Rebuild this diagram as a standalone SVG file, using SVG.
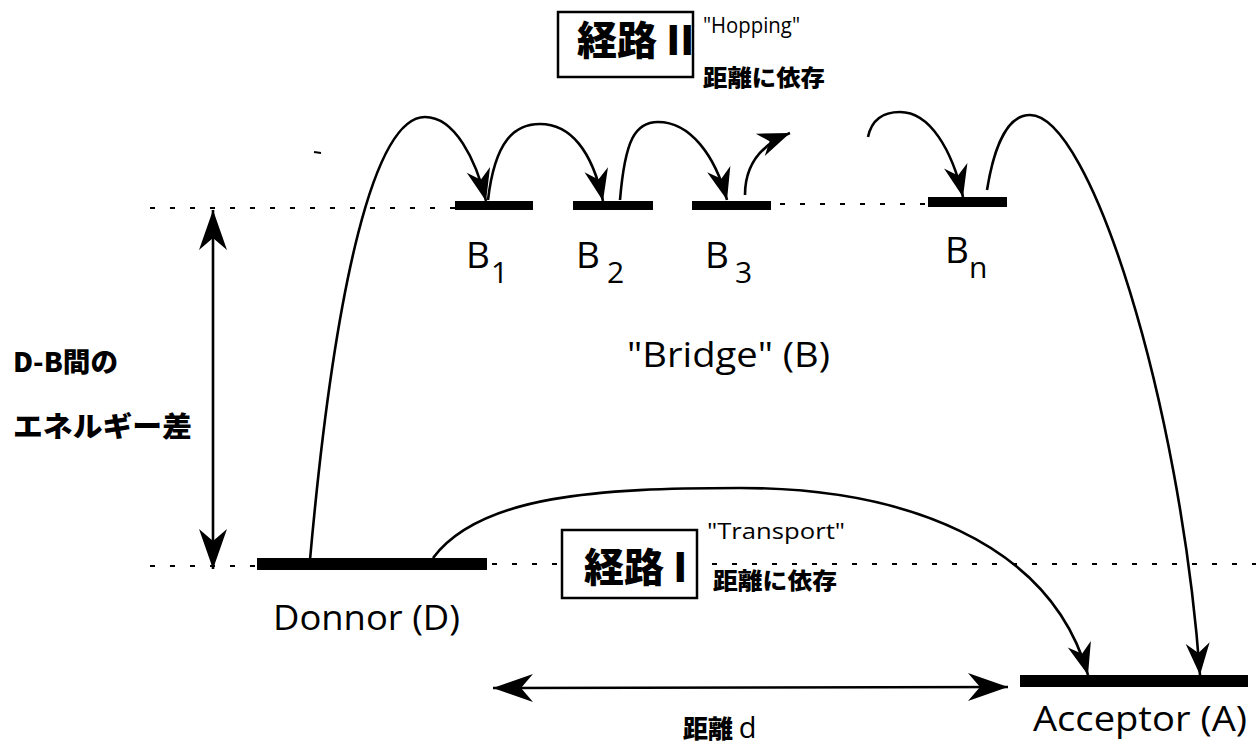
<svg xmlns="http://www.w3.org/2000/svg" width="1256" height="745" viewBox="0 0 1256 745">
<style>
.bg{fill:#fff}
.bar{fill:#000}
.dash{stroke:#000;stroke-width:2;stroke-dasharray:5 15;fill:none}
.conn{stroke:#000;stroke-width:2.6;fill:none}
.box{fill:#fff;stroke:#000;stroke-width:2.5}
.lat{font-family:"Open Sans","DejaVu Sans",sans-serif;fill:#000}
.jp{font-family:"Noto Sans CJK JP","Noto Sans CJK SC",sans-serif;font-weight:900;fill:#000}
.big{font-size:34px}
.blab{font-size:37px}
.sub{font-size:30px}
</style>
<defs>
<marker id="ah" viewBox="-34 -13 36 26" refX="0" refY="0" markerWidth="36" markerHeight="26" markerUnits="userSpaceOnUse" orient="auto">
<path d="M0,0 L-32,-12 L-22,0 L-32,12 Z" fill="#000"/>
</marker>
<marker id="ahL" viewBox="-42 -15 44 30" refX="0" refY="0" markerWidth="44" markerHeight="30" markerUnits="userSpaceOnUse" orient="auto-start-reverse">
<path d="M0,0 L-40,-14 L-28,0 L-40,14 Z" fill="#000"/>
</marker>
</defs>
<rect class="bg" x="0" y="0" width="1256" height="745"/>

<g id="guides">
<line class="dash" x1="150" y1="208" x2="455" y2="208"/>
<line class="dash" x1="780" y1="204" x2="928" y2="204"/>
<line class="dash" x1="150" y1="566" x2="257" y2="566"/>
<line class="dash" x1="492" y1="564" x2="1256" y2="564"/>
<line x1="314" y1="152" x2="321" y2="153" stroke="#000" stroke-width="2"/>
</g>

<g id="connectors">
<path class="conn" d="M310,560 C335,280 375,117 425,117 C455,117 476,160 486,201" marker-end="url(#ah)"/>
<path class="conn" d="M488,200 C495,140 515,124 540,124 C570,124 592,150 603,201" marker-end="url(#ah)"/>
<path class="conn" d="M620,200 C625,140 635,122 658,122 C690,122 715,155 727,200" marker-end="url(#ah)"/>
<path class="conn" d="M745,195 C745,165 760,145 790,133" marker-end="url(#ah)"/>
<path class="conn" d="M868,137 C872,118 885,112 900,112 C930,112 952,150 963,197" marker-end="url(#ah)"/>
<path class="conn" d="M987,190 C995,140 1010,115 1030,115 C1090,115 1180,400 1200,675" marker-end="url(#ah)"/>
<path class="conn" d="M433,558 C480,495 600,488 740,488 C900,488 1050,540 1088,675" marker-end="url(#ah)"/>
<line class="conn" x1="213" y1="210" x2="213" y2="569" marker-start="url(#ahL)" marker-end="url(#ahL)"/>
<line class="conn" x1="493" y1="688" x2="1008" y2="687" marker-start="url(#ahL)" marker-end="url(#ahL)"/>
</g>

<g id="B1">
<rect class="bar" x="455" y="201" width="78" height="9"/>
<text class="lat blab" x="466" y="268">B</text>
<text class="lat sub" x="491" y="283">1</text>
</g>
<g id="B2">
<rect class="bar" x="573" y="201" width="80" height="9"/>
<text class="lat blab" x="576" y="268">B</text>
<text class="lat sub" x="607" y="283">2</text>
</g>
<g id="B3">
<rect class="bar" x="692" y="201" width="79" height="9"/>
<text class="lat blab" x="705" y="268">B</text>
<text class="lat sub" x="735" y="283">3</text>
</g>
<g id="Bn">
<rect class="bar" x="928" y="197" width="79" height="10"/>
<text class="lat blab" x="945" y="263">B</text>
<text class="lat sub" x="969" y="278">n</text>
</g>

<g id="bridge-label">
<text class="lat big" x="627" y="367" textLength="203" lengthAdjust="spacingAndGlyphs">"Bridge" (B)</text>
</g>

<g id="donor">
<rect class="bar" x="257" y="558" width="230" height="12"/>
<text class="lat big" x="273" y="630" textLength="187" lengthAdjust="spacingAndGlyphs">Donnor (D)</text>
</g>

<g id="acceptor">
<rect class="bar" x="1020" y="675" width="228" height="12"/>
<text class="lat big" x="1033" y="731" textLength="214" lengthAdjust="spacingAndGlyphs">Acceptor (A)</text>
</g>

<g id="energy-label">
<text class="jp" x="13" y="372" font-size="27" textLength="105" lengthAdjust="spacingAndGlyphs">D-B間の</text>
<text class="jp" x="13" y="437" font-size="28" textLength="179" lengthAdjust="spacingAndGlyphs">エネルギー差</text>
</g>

<g id="path2">
<rect class="box" x="558" y="12" width="135" height="65"/>
<text class="jp" x="577" y="55" font-size="40">経路 II</text>
<text class="lat" x="703" y="33" font-size="21" textLength="97" lengthAdjust="spacingAndGlyphs">"Hopping"</text>
<text class="jp" x="703" y="86" font-size="23" textLength="122" lengthAdjust="spacingAndGlyphs">距離に依存</text>
</g>

<g id="path1">
<rect class="box" x="562" y="530" width="135" height="68"/>
<text class="jp" x="584" y="582" font-size="40">経路 I</text>
<text class="lat" x="707" y="539" font-size="22" textLength="138" lengthAdjust="spacingAndGlyphs">"Transport"</text>
<text class="jp" x="713" y="589" font-size="23" textLength="124" lengthAdjust="spacingAndGlyphs">距離に依存</text>
</g>

<g id="distance-label">
<text class="jp" x="683" y="738" font-size="25">距離 <tspan class="lat" font-weight="400" font-size="29">d</tspan></text>
</g>
</svg>
